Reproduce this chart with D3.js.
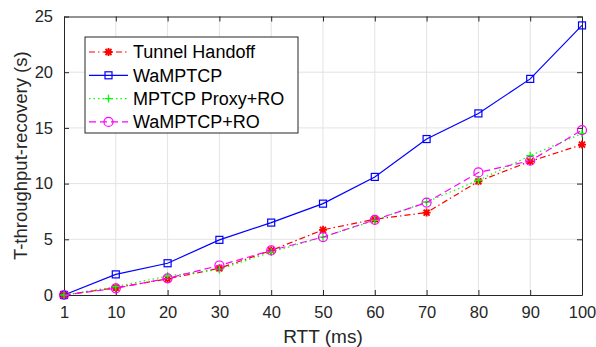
<!DOCTYPE html>
<html>
<head>
<meta charset="utf-8">
<script src="https://cdn.jsdelivr.net/npm/d3@7"></script>
<style>
  body { margin: 0; background: #fff; }
  text { font-family: "Liberation Sans", Arial, sans-serif; }
</style>
</head>
<body>
<div id="chart"></div>
<script>
// data
const rtt = ["1", "10", "20", "30", "40", "50", "60", "70", "80", "90", "100"];
const tunnelHandoff = [0, 0.65, 1.45, 2.4, 4.0, 5.85, 6.8, 7.4, 10.2, 12.0, 13.5];
const waMptcp = [0, 1.85, 2.85, 4.95, 6.5, 8.2, 10.6, 14.0, 16.3, 19.4, 24.2];
const mptcpProxyRo = [0, 0.75, 1.7, 2.3, 3.85, 5.2, 6.7, 8.35, 10.3, 12.5, 14.5];
const waMptcpRo = [0, 0.6, 1.5, 2.65, 4.0, 5.2, 6.75, 8.3, 11.0, 12.05, 14.8];
const yTicks = [0, 5, 10, 15, 20, 25];

const series = [
    {name: "Tunnel Handoff", values: tunnelHandoff, color: "#ff0000", dash: "6,3,1.5,3", marker: "star"},
    {name: "WaMPTCP", values: waMptcp, color: "#0000ff", dash: null, marker: "square"},
    {name: "MPTCP Proxy+RO", values: mptcpProxyRo, color: "#00ff00", dash: "1.5,3", marker: "plus"},
    {name: "WaMPTCP+RO", values: waMptcpRo, color: "#ff00ff", dash: "7,4", marker: "circle"}
];

const W = 596, H = 347;
const margin = {top: 16.5, right: 14, bottom: 52, left: 64};
const width = W - margin.left - margin.right;
const height = H - margin.top - margin.bottom;

const svg = d3.select("#chart").append("svg")
    .attr("width", W)
    .attr("height", H);

const g = svg.append("g")
    .attr("transform", `translate(${margin.left},${margin.top})`);

const x = d3.scalePoint().domain(rtt).range([0, width]);
const y = d3.scaleLinear().domain([0, 25]).range([height, 0]);

// grid
g.append("g").selectAll("line.vgrid")
    .data(rtt.slice(1, -1))
    .enter().append("line")
    .attr("x1", d => x(d)).attr("x2", d => x(d))
    .attr("y1", 0).attr("y2", height)
    .attr("stroke", "#e3e3e3").attr("stroke-width", 1);
g.append("g").selectAll("line.hgrid")
    .data(yTicks.slice(1, -1))
    .enter().append("line")
    .attr("x1", 0).attr("x2", width)
    .attr("y1", d => y(d)).attr("y2", d => y(d))
    .attr("stroke", "#e3e3e3").attr("stroke-width", 1);

// axes, ticks pointing inward
const axisColor = "#262626";
const xAxis = g.append("g")
    .attr("transform", `translate(0,${height})`)
    .call(d3.axisBottom(x).tickSizeInner(-5).tickSizeOuter(0).tickPadding(11));
const xTop = g.append("g")
    .call(d3.axisTop(x).tickSizeInner(-5).tickSizeOuter(0).tickFormat(""));
const yAxis = g.append("g")
    .call(d3.axisLeft(y).tickValues(yTicks).tickSizeInner(-5).tickSizeOuter(0).tickPadding(11));
const yRight = g.append("g")
    .attr("transform", `translate(${width},0)`)
    .call(d3.axisRight(y).tickValues(yTicks).tickSizeInner(-5).tickSizeOuter(0).tickFormat(""));

[xAxis, xTop, yAxis, yRight].forEach(a => {
    a.select(".domain").attr("stroke", axisColor).attr("stroke-width", 1);
    a.selectAll(".tick line").attr("stroke", axisColor);
    a.selectAll(".tick text")
        .attr("fill", "#262626")
        .style("font-size", "16.5px")
        .style("font-family", "'Liberation Sans', Arial, sans-serif");
});

// axis labels
svg.append("text")
    .attr("x", margin.left + width / 2)
    .attr("y", 343)
    .attr("text-anchor", "middle")
    .attr("fill", "#262626")
    .style("font-size", "19px")
    .text("RTT (ms)");

svg.append("text")
    .attr("transform", `translate(27,${margin.top + height / 2}) rotate(-90)`)
    .attr("text-anchor", "middle")
    .attr("fill", "#262626")
    .style("font-size", "18.5px")
    .text("T-throughput-recovery (s)");

function drawMarker(sel, type, color) {
    if (type === "square") {
        sel.append("rect").attr("x", -3.5).attr("y", -3.5).attr("width", 7).attr("height", 7)
            .attr("fill", "none").attr("stroke", color).attr("stroke-width", 1.2);
    } else if (type === "circle") {
        sel.append("circle").attr("r", 4.5)
            .attr("fill", "none").attr("stroke", color).attr("stroke-width", 1.2);
    } else if (type === "plus") {
        sel.append("path").attr("d", "M-4,0H4M0,-4V4")
            .attr("stroke", color).attr("stroke-width", 1.3);
    } else if (type === "star") {
        sel.append("path").attr("d", "M-4,0H4M0,-4V4M-3,-3L3,3M-3,3L3,-3")
            .attr("stroke", color).attr("stroke-width", 1.8);
    }
}

const line = d3.line()
    .x((d, i) => x(rtt[i]))
    .y(d => y(d));

series.forEach(s => {
    g.append("path")
        .datum(s.values)
        .attr("d", line)
        .attr("fill", "none")
        .attr("stroke", s.color)
        .attr("stroke-width", 1.2)
        .attr("stroke-dasharray", s.dash);

    g.selectAll(null)
        .data(s.values)
        .enter().append("g")
        .attr("transform", (d, i) => `translate(${x(rtt[i])},${y(d)})`)
        .each(function() { drawMarker(d3.select(this), s.marker, s.color); });
});

// legend
const legend = svg.append("g").attr("transform", "translate(85,37)");
legend.append("rect")
    .attr("width", 213).attr("height", 96)
    .attr("fill", "#fff").attr("stroke", axisColor).attr("stroke-width", 1);

series.forEach((s, i) => {
    const ly = 15 + i * 23.3;
    const row = legend.append("g").attr("transform", `translate(0,${ly})`);
    row.append("line")
        .attr("x1", 4).attr("x2", 43)
        .attr("stroke", s.color).attr("stroke-width", 1.2)
        .attr("stroke-dasharray", s.dash);
    const m = row.append("g").attr("transform", "translate(23.5,0)");
    drawMarker(m, s.marker, s.color);
    row.append("text")
        .attr("x", 48).attr("y", 0)
        .attr("dy", "0.35em")
        .attr("fill", "#000")
        .style("font-size", "18px")
        .text(s.name);
});
</script>
</body>
</html>
